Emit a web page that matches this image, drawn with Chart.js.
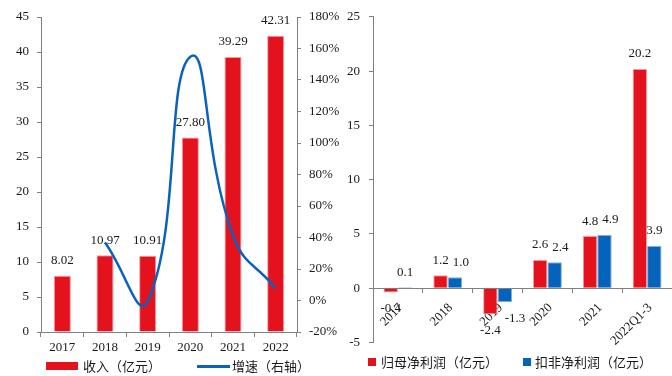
<!DOCTYPE html>
<html>
<head>
<meta charset="utf-8">
<script src="https://cdn.jsdelivr.net/npm/chart.js@4.4.0/dist/chart.umd.min.js"></script>
<style>
  body { margin: 0; background: #fff; }
  #wrap { position: relative; width: 672px; height: 376px; overflow: hidden; }
  #c1 { position: absolute; left: 0; top: 0; }
  #c2 { position: absolute; left: 340px; top: 0; }
  .lg { position: absolute; font: 13px "Noto Sans CJK SC"; color: #1a1a1a; line-height: 16px; white-space: nowrap; }
  .sw { position: absolute; }
</style>
</head>
<body>
<div id="wrap">
  <canvas id="c1" width="340" height="376"></canvas>
  <canvas id="c2" width="332" height="376"></canvas>

  <div class="sw" style="left:46px;top:362px;width:32px;height:8px;background:#E3121C"></div>
  <div class="lg" style="left:83px;top:358px">收入（亿元）</div>
  <div class="sw" style="left:197px;top:365px;width:33px;height:3px;background:#0B62BD"></div>
  <div class="lg" style="left:232px;top:358px">增速（右轴）</div>

  <div class="sw" style="left:368px;top:358px;width:8px;height:8px;background:#E3121C"></div>
  <div class="lg" style="left:381px;top:354px">归母净利润（亿元）</div>
  <div class="sw" style="left:523px;top:358px;width:8px;height:8px;background:#0563BB"></div>
  <div class="lg" style="left:535px;top:354px">扣非净利润（亿元）</div>
</div>
<script>
// left chart: revenue + growth
var years = ['2017', '2018', '2019', '2020', '2021', '2022'];
var revenue = [8.02, 10.97, 10.91, 27.80, 39.29, 42.31];
var growth = [null, 36.8, -0.5, 154.8, 41.3, 7.7];

// right chart: net profit
var periods = ['2017', '2018', '2019', '2020', '2021', '2022Q1-3'];
var netProfit = [-0.4, 1.2, -2.4, 2.6, 4.8, 20.2];
var deductedProfit = [0.1, 1.0, -1.3, 2.4, 4.9, 3.9];

var RED = '#E3121C';
var BLUE = '#0563BB';
var LINE = '#0B62BD';
var AXIS = '#808080';
var TXT = '#1a1a1a';
var serif = { family: '"Liberation Serif", "Times New Roman", serif', size: 13 };

// value labels above / below bars, pushed right when they collide
function barLabels(digits) {
  function layout(chart, ctx) {
    var out = {};
    var placed = [];
    chart.data.datasets.forEach(function(ds, i) {
      var meta = chart.getDatasetMeta(i);
      if (meta.type !== 'bar') return;
      out[i] = meta.data.map(function(bar, j) {
        var v = ds.data[j];
        var txt = v.toFixed(digits);
        var w = ctx.measureText(txt).width;
        var y = v >= 0 ? bar.y - 15 : bar.y + 16;
        var x = bar.x;
        placed.forEach(function(p) {
          if (Math.abs(p.y - y) < 12 && x - w / 2 < p.x + p.w / 2 + 4 && x > p.x) {
            x = p.x + p.w / 2 + 4 + w / 2;
          }
        });
        var item = { x: x, y: y, w: w, txt: txt };
        placed.push(item);
        return item;
      });
    });
    return out;
  }
  return {
    id: 'barLabels',
    afterDatasetDraw: function(chart, args) {
      if (args.meta.type !== 'bar') return;
      var ctx = chart.ctx;
      ctx.save();
      ctx.font = '13px "Liberation Serif"';
      ctx.fillStyle = TXT;
      ctx.textAlign = 'center';
      ctx.textBaseline = 'middle';
      var items = layout(chart, ctx)[args.index];
      items.forEach(function(it) { ctx.fillText(it.txt, it.x, it.y); });
      ctx.restore();
    }
  };
}

new Chart(document.getElementById('c1'), {
  type: 'bar',
  data: {
    labels: years,
    datasets: [
      {
        type: 'line',
        label: '增速（右轴）',
        data: growth,
        yAxisID: 'y1',
        borderColor: LINE,
        borderWidth: 2.5,
        pointRadius: 0,
        tension: 0.5,
        spanGaps: true,
        fill: false
      },
      {
        label: '收入（亿元）',
        data: revenue,
        yAxisID: 'y',
        backgroundColor: RED,
        borderColor: '#F19AA0',
        borderWidth: 1,
        barPercentage: 0.4,
        categoryPercentage: 1
      }
    ]
  },
  options: {
    responsive: false,
    animation: false,
    layout: { padding: { top: 17, left: 0, right: 0, bottom: 0 } },
    plugins: { legend: { display: false }, tooltip: { enabled: false } },
    scales: {
      x: {
        grid: { drawOnChartArea: false, tickLength: 5, color: AXIS },
        border: { color: AXIS },
        ticks: { font: serif, color: TXT, padding: 3 },
        afterFit: function(s) { s.height = 44; }
      },
      y: {
        min: 0, max: 45,
        grid: { drawOnChartArea: false, tickLength: 4, color: AXIS },
        border: { color: AXIS },
        ticks: { stepSize: 5, font: serif, color: TXT, padding: 8 },
        afterFit: function(s) { s.width = 41; }
      },
      y1: {
        position: 'right',
        min: -20, max: 180,
        grid: { drawOnChartArea: false, tickLength: 4, color: AXIS },
        border: { color: AXIS },
        ticks: { stepSize: 20, font: serif, color: TXT, padding: 8, callback: function(v) { return v + '%'; } },
        afterFit: function(s) { s.width = 43; }
      }
    }
  },
  plugins: [barLabels(2)]
});

new Chart(document.getElementById('c2'), {
  type: 'bar',
  data: {
    labels: periods,
    datasets: [
      { label: '归母净利润（亿元）', data: netProfit, backgroundColor: RED, borderColor: '#F19AA0', borderWidth: 1, barPercentage: 1, categoryPercentage: 0.58 },
      { label: '扣非净利润（亿元）', data: deductedProfit, backgroundColor: BLUE, borderColor: '#7FB0E0', borderWidth: 1, barPercentage: 1, categoryPercentage: 0.58 }
    ]
  },
  options: {
    responsive: false,
    animation: false,
    layout: { padding: { top: 13.5, left: 0, right: 0, bottom: 33.5 } },
    plugins: { legend: { display: false }, tooltip: { enabled: false } },
    scales: {
      x: {
        position: { y: 0 },
        grid: { drawOnChartArea: false, tickLength: 4, color: AXIS },
        border: { color: AXIS },
        ticks: { font: serif, color: TXT, padding: 8, labelOffset: 3, minRotation: 45, maxRotation: 45, autoSkip: false }
      },
      y: {
        min: -5, max: 25,
        grid: { drawOnChartArea: false, tickLength: 4, color: AXIS },
        border: { color: AXIS },
        ticks: { stepSize: 5, font: serif, color: TXT, padding: 9 },
        afterFit: function(s) { s.width = 33; }
      }
    }
  },
  plugins: [barLabels(1)]
});
</script>
</body>
</html>
